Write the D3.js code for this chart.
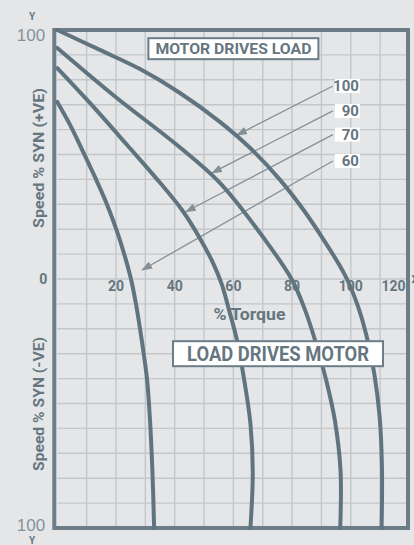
<!DOCTYPE html>
<html>
<head>
<meta charset="utf-8">
<script src="https://cdn.jsdelivr.net/npm/d3@7"></script>
<style>
  body { margin: 0; background: #e4e6e8; }
  svg { display: block; }
  text { font-family: Roboto, "Liberation Sans", sans-serif; font-weight: 700; fill: #66767f; }
</style>
</head>
<body>
<div id="chart"></div>
<script>
const width = 414, height = 545;

// points: [torque %, speed % syn]
const curve100 = [[0,100],[14.5,92],[28.2,84.3],[41.8,74.7],[55.4,63.1],[65.7,52.6],[75.9,39.8],[84.4,26.9],
  [91.2,14.9],[96.3,5.2],[99,-0.8],[102.4,-10.8],[105.3,-22.5],[108,-38],[109.8,-55],[110.6,-75],[110.5,-100]];
const curve90 = [[0,92.8],[20.3,72.7],[40.8,53.8],[55.4,38.6],[70.8,15.7],[80,-0.4],[84.4,-12.4],[87.8,-24.5],
  [91.6,-40.6],[94.6,-57],[96.5,-77],[96.4,-100]];
const curve70 = [[0,84.7],[11.1,70.7],[23.8,53.8],[33.3,41],[42.5,27.7],[48.9,15.7],[53.4,5.6],[56.1,-2.4],
  [58.8,-13.7],[61.2,-24.5],[63.6,-40],[65.8,-58],[66.6,-78],[65.8,-100]];
const curve60 = [[0,71.1],[4.4,61.8],[7.7,53.8],[12.5,41.8],[17,29.7],[20.4,18.9],[23,9.2],[25.1,0],
  [26.8,-10],[28.2,-20.1],[29.5,-30.5],[30.6,-40.6],[31.6,-57],[32.4,-77],[33,-100]];

const curveNames = ["100", "90", "70", "60"];
// arrow from label to curve: [start torque, start speed, tip torque, tip speed]
const arrows = [[93.9,77.5,61.2,57.8],[93.9,67.5,52.7,42.6],[93.9,58,43.8,27],[93.9,47.4,28.9,3.6]];

const xTicks = [20, 40, 60, 80, 100, 120];

let x = d3.scaleLinear().domain([0, 120]).range([57.3, 409.5]);
let y = d3.scaleLinear().domain([-100, 100]).range([528, 30]);

let svg = d3.select("#chart")
    .append("svg")
    .attr("width", width)
    .attr("height", height);

svg.append("rect").attr("width", width).attr("height", height).attr("fill", "#e4e6e8");

// grid
let grid = svg.append("g").attr("stroke", "#c3c7ca").attr("stroke-width", 1.4);
grid.selectAll("line.v").data(d3.range(10, 120, 10))
    .enter().append("line")
    .attr("x1", d => x(d)).attr("x2", d => x(d))
    .attr("y1", y(100)).attr("y2", y(-100));
grid.selectAll("line.h").data(d3.range(-90, 100, 10))
    .enter().append("line")
    .attr("x1", x(0)).attr("x2", x(120))
    .attr("y1", d => y(d)).attr("y2", d => y(d));

// frame
svg.append("rect")
    .attr("x", x(0) - 3).attr("y", y(100))
    .attr("width", x(120) - 1.5 - (x(0) - 3)).attr("height", y(-100) - y(100))
    .attr("fill", "none").attr("stroke", "#6c7d87").attr("stroke-width", 4);

// arrows
svg.append("defs").append("marker")
    .attr("id", "head").attr("viewBox", "0 0 11 8")
    .attr("refX", 10).attr("refY", 4)
    .attr("markerWidth", 11).attr("markerHeight", 8)
    .attr("markerUnits", "userSpaceOnUse")
    .attr("orient", "auto")
    .append("path").attr("d", "M0,0 L11,4 L0,8 Z").attr("fill", "#858f96");

svg.selectAll("line.arrow").data(arrows)
    .enter().append("line")
    .attr("x1", d => x(d[0])).attr("y1", d => y(d[1]))
    .attr("x2", d => x(d[2])).attr("y2", d => y(d[3]))
    .attr("stroke", "#858f96").attr("stroke-width", 1.3)
    .attr("marker-end", "url(#head)");

// curves
let line = d3.line().x(d => x(d[0])).y(d => y(d[1])).curve(d3.curveCatmullRom.alpha(0.5));
svg.selectAll("path.curve").data([curve100, curve90, curve70, curve60])
    .enter().append("path")
    .attr("d", line)
    .attr("fill", "none")
    .attr("stroke", "#607480")
    .attr("stroke-width", 4)
    .attr("stroke-linecap", "round");

// curve labels with white backing
let labels = svg.selectAll("g.lab").data(curveNames)
    .enter().append("g")
    .attr("transform", (d, i) => `translate(${x(arrows[i][0]) + 2}, ${y(arrows[i][1])})`);
labels.append("rect")
    .attr("x", 0).attr("y", -7).attr("width", 25).attr("height", 14)
    .attr("fill", "#ffffff");
labels.append("text")
    .attr("x", 24).attr("dy", "0.36em")
    .style("text-anchor", "end")
    .style("font-size", "15px")
    .text(d => d);

// x tick labels
svg.selectAll("text.xt").data(xTicks)
    .enter().append("text")
    .attr("x", d => d === 120 ? x(d) - 16 : x(d))
    .attr("y", y(0) + 12)
    .style("text-anchor", "middle")
    .style("font-size", "14px")
    .text(d => d);

svg.append("text")
    .attr("x", x(0) - 14).attr("y", y(0)).attr("dy", "0.36em")
    .style("text-anchor", "middle").style("font-size", "14px")
    .text("0");

svg.append("text")
    .attr("x", x(120) + 2).attr("y", y(0)).attr("dy", "0.36em")
    .style("font-size", "11px")
    .text("X");

// y end labels
svg.append("text")
    .attr("x", 31).attr("y", y(100) + 5).attr("dy", "0.36em")
    .style("text-anchor", "middle")
    .style("font-family", "'Liberation Sans', sans-serif")
    .style("font-weight", 400).style("font-size", "17px").style("fill", "#84929a")
    .text("100");
svg.append("text")
    .attr("x", 31).attr("y", y(-100) - 3).attr("dy", "0.36em")
    .style("text-anchor", "middle")
    .style("font-family", "'Liberation Sans', sans-serif")
    .style("font-weight", 400).style("font-size", "17px").style("fill", "#84929a")
    .text("100");
svg.append("text")
    .attr("x", 32).attr("y", 20)
    .style("text-anchor", "middle").style("font-size", "10px")
    .text("Y");
svg.append("text")
    .attr("x", 32).attr("y", 544)
    .style("text-anchor", "middle").style("font-size", "10px")
    .text("Y");

// y axis titles
svg.append("text")
    .attr("transform", `translate(44, ${y(48.6)}) rotate(-90)`)
    .style("text-anchor", "middle").style("font-size", "15px")
    .attr("textLength", 140).attr("lengthAdjust", "spacingAndGlyphs")
    .text("Speed % SYN (+VE)");
svg.append("text")
    .attr("transform", `translate(44, ${y(-50.2)}) rotate(-90)`)
    .style("text-anchor", "middle").style("font-size", "15px")
    .attr("textLength", 134).attr("lengthAdjust", "spacingAndGlyphs")
    .text("Speed % SYN (-VE)");

// % Torque
svg.append("text")
    .attr("x", x(53.2)).attr("y", y(-14)).attr("dy", "0.36em")
    .style("font-size", "17px")
    .attr("textLength", 72).attr("lengthAdjust", "spacingAndGlyphs")
    .text("% Torque");

// boxed captions
function caption(cx, cy, label, size, len, padX, h) {
  let g = svg.append("g").attr("transform", `translate(${x(cx)}, ${y(cy)})`);
  let w = len + padX * 2;
  g.append("rect")
      .attr("x", -w / 2).attr("y", -h / 2).attr("width", w).attr("height", h)
      .attr("fill", "#ffffff").attr("stroke", "#6c7d87").attr("stroke-width", 2);
  g.append("text")
      .attr("dy", "0.36em")
      .style("text-anchor", "middle")
      .style("font-size", size + "px")
      .attr("textLength", len).attr("lengthAdjust", "spacingAndGlyphs")
      .text(label);
}
caption(60, 92.5, "MOTOR DRIVES LOAD", 15.5, 156, 7, 21);
caption(75.2, -30, "LOAD DRIVES MOTOR", 20.5, 182, 14, 25);
</script>
</body>
</html>
